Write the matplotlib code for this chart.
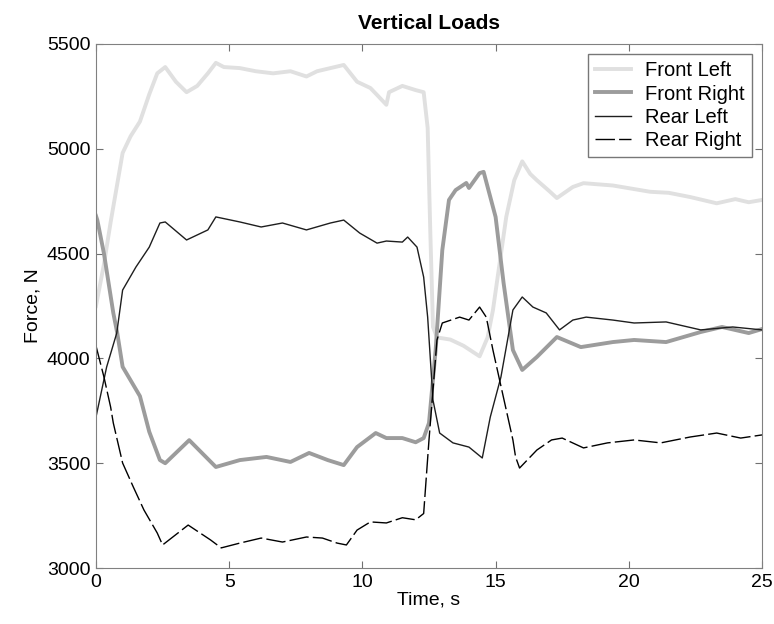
import matplotlib.pyplot as plt

plt.rcParams['font.family'] = ['Liberation Sans', 'DejaVu Sans']

# values (time in s, force in N)
t_fl = [0.0, 0.3, 0.55, 1.0, 1.3, 1.65, 2.0, 2.3, 2.6, 3.0, 3.4, 3.8, 4.2, 4.5, 4.8,
        5.4, 6.0, 6.65, 7.3, 7.9, 8.3, 8.8, 9.3, 9.8, 10.3, 10.55, 10.9, 11.0, 11.5,
        12.0, 12.3, 12.45, 12.55, 12.65, 12.8, 13.3, 13.8, 14.4, 14.7, 14.9, 15.4,
        15.7, 16.0, 16.3, 16.55, 17.0, 17.3, 17.9, 18.3, 19.4, 20.8, 21.5, 22.3,
        23.3, 24.0, 24.5, 25.0]
front_left = [4250, 4450, 4650, 4980, 5060, 5130, 5260, 5360, 5390, 5320, 5270, 5300,
              5360, 5410, 5390, 5385, 5370, 5360, 5370, 5345, 5370, 5385, 5400, 5320,
              5290, 5257, 5210, 5270, 5300, 5280, 5270, 5100, 4600, 4150, 4100, 4090,
              4060, 4010, 4100, 4230, 4675, 4850, 4940, 4880, 4850, 4800, 4765, 4818,
              4836, 4825, 4795, 4790, 4770, 4740, 4760, 4745, 4756]

t_fr = [0.0, 0.05, 0.3, 0.65, 0.8, 1.0, 1.65, 2.0, 2.4, 2.6, 3.5, 4.5, 5.4, 6.4, 7.3,
        8.0, 8.7, 9.3, 9.8, 10.5, 10.9, 11.5, 12.0, 12.3, 12.5, 12.75, 13.0, 13.25,
        13.5, 13.9, 14.0, 14.4, 14.55, 15.0, 15.3, 15.65, 16.0, 16.55, 17.3, 18.2,
        19.4, 20.2, 21.4, 22.7, 23.5, 24.5, 25.0]
front_right = [4680, 4660, 4500, 4217, 4120, 3960, 3820, 3650, 3515, 3500, 3610, 3482,
               3515, 3530, 3506, 3549, 3515, 3491, 3577, 3644, 3620, 3620, 3600, 3620,
               3692, 4040, 4517, 4756, 4803, 4837, 4813, 4884, 4890, 4675, 4360, 4040,
               3945, 4007, 4102, 4054, 4078, 4088, 4078, 4126, 4150, 4121, 4140]

t_rl = [0.0, 0.4, 0.78, 1.0, 1.5, 2.0, 2.4, 2.6, 3.4, 4.2, 4.5, 5.4, 6.2, 7.0, 7.9,
        8.8, 9.3, 9.9, 10.55, 10.9, 11.5, 11.7, 12.05, 12.3, 12.45, 12.65, 12.9, 13.4,
        14.0, 14.5, 14.8, 15.2, 15.65, 16.0, 16.4, 16.9, 17.4, 17.9, 18.4, 19.4, 20.2,
        21.4, 22.7, 23.9, 25.0]
rear_left = [3720, 3959, 4121, 4326, 4436, 4531, 4646, 4651, 4565, 4613, 4675, 4651,
             4627, 4646, 4613, 4646, 4660, 4598, 4550, 4560, 4555, 4579, 4531, 4388,
             4197, 3801, 3644, 3597, 3577, 3525, 3720, 3911, 4231, 4293, 4245, 4217,
             4136, 4183, 4197, 4183, 4169, 4174, 4136, 4150, 4136]

t_rr = [0.0, 0.3, 0.55, 0.65, 1.0, 1.4, 1.8, 2.3, 2.5, 3.46, 4.3, 4.7, 5.4, 6.2, 7.0,
        7.9, 8.5, 9.05, 9.4, 9.8, 10.3, 10.9, 11.5, 12.0, 12.3, 12.5, 12.8, 13.0,
        13.65, 14.0, 14.4, 14.65, 14.9, 15.15, 15.4, 15.65, 15.75, 15.9, 16.55, 17.1,
        17.5, 18.3, 19.2, 20.2, 21.2, 22.3, 23.3, 24.2, 25.0]
rear_right = [4060, 3911, 3768, 3692, 3501, 3387, 3277, 3167, 3110, 3205, 3134, 3096,
              3119, 3143, 3124, 3148, 3143, 3119, 3110, 3181, 3220, 3215, 3240, 3230,
              3260, 3611, 4088, 4169, 4197, 4183, 4245, 4197, 4040, 3897, 3754, 3611,
              3530, 3477, 3563, 3611, 3620, 3573, 3597, 3611, 3597, 3625, 3644, 3620,
              3635]

fig = plt.figure(figsize=(7.74, 6.24), dpi=100)
ax = fig.add_axes([0.124, 0.0897, 0.8605, 0.8398])

ax.plot(t_fl, front_left, color='#e0e0e0', lw=2.8, label='Front Left')
ax.plot(t_fr, front_right, color='#9c9c9c', lw=2.8, label='Front Right')
ax.plot(t_rl, rear_left, color='#1e1e1e', lw=1.0, label='Rear Left')
ax.plot(t_rr, rear_right, color='black', lw=1.0, ls=(0, (14, 3)), label='Rear Right')

ax.set_xlim(0, 25)
ax.set_ylim(3000, 5500)
ax.set_xticks([0, 5, 10, 15, 20, 25])
ax.set_yticks([3000, 3500, 4000, 4500, 5000, 5500])
ax.tick_params(direction='in', top=True, right=True, length=5, labelsize=14,
               color='#707070', pad=4)
for s in ax.spines.values():
    s.set_color('#808080')

ax.set_title('Vertical Loads', fontsize=15, fontweight='bold', pad=11)
ax.set_xlabel('Time, s', fontsize=14, labelpad=1)
ax.set_ylabel('Force, N', fontsize=14, labelpad=4)

leg = ax.legend(loc='upper right', fontsize=14.5, fancybox=False, handlelength=1.8,
                borderpad=0.35, labelspacing=0.22, handletextpad=0.7, borderaxespad=0.5)
leg.get_frame().set_edgecolor('#555555')
leg.get_frame().set_linewidth(1.0)

fig.savefig('out.png', dpi=100)
